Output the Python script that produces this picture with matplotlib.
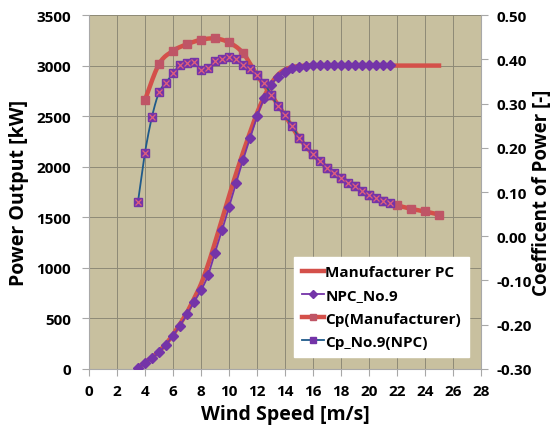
import numpy as np
import matplotlib
matplotlib.use("Agg")
import matplotlib.pyplot as plt
from matplotlib.lines import Line2D
from matplotlib.ticker import FormatStrFormatter

plt.rcParams['font.family'] = ['Open Sans', 'DejaVu Sans']
plt.rcParams['font.weight'] = 'bold'

# wind speed bins [m/s]
ws_pc = np.arange(3.5, 25.01, 0.5)
ws_npc = np.arange(3.5, 21.51, 0.5)
ws_cp_man = np.arange(4, 25.01, 1.0)

# power curves [kW]
pc_manufacturer = [15, 65, 115, 175, 250, 340, 445, 560, 695, 840, 1030, 1250,
                   1480, 1710, 1930, 2140, 2340, 2530, 2690, 2820, 2910, 2960,
                   2985, 2995] + [3000] * 20
pc_npc9 = [10, 60, 106, 165, 241, 330, 430, 539, 661, 777, 926, 1151, 1370,
           1604, 1840, 2066, 2282, 2497, 2675, 2805, 2890, 2940, 2973, 2988,
           2998, 3003] + [3005] * 11

# power coefficients [-]
cp_manufacturer = [0.308, 0.389, 0.419, 0.434, 0.444, 0.447, 0.438, 0.414,
                   0.364, 0.320, 0.273, 0.223, 0.185, 0.155, 0.132, 0.113,
                   0.094, 0.079, 0.070, 0.062, 0.056, 0.049]
cp_npc9 = [0.078, 0.189, 0.270, 0.325, 0.347, 0.368, 0.387, 0.391, 0.393,
           0.376, 0.380, 0.395, 0.401, 0.404, 0.400, 0.386, 0.379, 0.364,
           0.347, 0.320, 0.294, 0.273, 0.250, 0.223, 0.204, 0.185, 0.170,
           0.155, 0.143, 0.132, 0.121, 0.113, 0.102, 0.094, 0.087, 0.079,
           0.075]

RED = '#D4504A'
RED_MK = '#BF5566'
PURPLE = '#7434A8'
BLUE = '#1F5A8A'
BG = '#C8C09F'
GREY = '#A8A8A8'


def smooth(x, y, n=12):
    # excel-style smoothed line through the points (catmull-rom)
    x = np.asarray(x, float)
    y = np.asarray(y, float)
    px = np.concatenate([[x[0]], x, [x[-1]]])
    py = np.concatenate([[y[0]], y, [y[-1]]])
    t = np.linspace(0, 1, n, endpoint=False)[:, None]
    out_x, out_y = [], []
    for p, arr in ((px, out_x), (py, out_y)):
        p0, p1, p2, p3 = p[:-3], p[1:-2], p[2:-1], p[3:]
        seg = 0.5 * (2 * p1 + (-p0 + p2) * t + (2 * p0 - 5 * p1 + 4 * p2 - p3) * t ** 2
                     + (-p0 + 3 * p1 - 3 * p2 + p3) * t ** 3)
        arr.append(np.concatenate([seg.T.ravel(), [p[-2]]]))
    return out_x[0], out_y[0]


fig = plt.figure(figsize=(5.51, 4.27), dpi=100)
ax = fig.add_axes([0.1615, 0.1335, 0.7115, 0.829])
ax.set_facecolor(BG)

ax.plot(*smooth(ws_pc, pc_manufacturer), color=RED, lw=3.2, zorder=3)
ax.plot(*smooth(ws_npc, pc_npc9), color=PURPLE, lw=1.3, zorder=4)
ax.plot(ws_npc, pc_npc9, ls='none', marker='D', ms=5, mfc=PURPLE, mec=PURPLE, zorder=4)

ax.set_xlim(0, 28)
ax.set_ylim(0, 3500)
ax.set_xticks(np.arange(0, 29, 2))
ax.set_yticks(np.arange(0, 3501, 500))
ax.grid(True, color='#8E8A76', lw=0.7)
ax.set_axisbelow(True)
for s in ['top', 'right']:
    ax.spines[s].set_visible(False)
for s in ['left', 'bottom']:
    ax.spines[s].set_color(GREY)
    ax.spines[s].set_linewidth(0.8)
ax.tick_params(labelsize=11, colors=GREY, labelcolor='black', length=5, width=0.8)
ax.tick_params(axis='x', pad=6)
ax.tick_params(axis='y', pad=8)
ax.set_xlabel('Wind Speed [m/s]', fontsize=14, fontweight='bold', labelpad=4)
ax.set_ylabel('Power Output [kW]', fontsize=14, fontweight='bold', labelpad=5)

ax2 = ax.twinx()
ax2.plot(*smooth(ws_cp_man, cp_manufacturer), color=RED, lw=3.2, zorder=3)
ax2.plot(ws_cp_man, cp_manufacturer, ls='none', marker='s', ms=6,
         mfc=RED_MK, mec=RED_MK, zorder=3)
ax2.plot(*smooth(ws_npc, cp_npc9), color=BLUE, lw=1.3, zorder=4)
ax2.plot(ws_npc, cp_npc9, ls='none', marker='s', ms=6,
         mfc=PURPLE, mec=PURPLE, zorder=4)
ax2.plot(ws_npc, cp_npc9, ls='none', marker='x', ms=4.5, mew=0.9,
         color='#E0607A', zorder=5)
ax2.set_ylim(-0.3, 0.5)
ax2.set_yticks(np.arange(-0.3, 0.51, 0.1))
ax2.yaxis.set_major_formatter(FormatStrFormatter('%.2f'))
for s in ['top', 'left', 'bottom']:
    ax2.spines[s].set_visible(False)
ax2.spines['right'].set_color(GREY)
ax2.spines['right'].set_linewidth(0.8)
ax2.tick_params(labelsize=11, colors=GREY, labelcolor='black', length=5, width=0.8, pad=6)
ax2.set_ylabel('Coefficent of Power [-]', fontsize=13.5, fontweight='bold', labelpad=0)

handles = [
    Line2D([], [], color=RED, lw=3.2),
    Line2D([], [], color=PURPLE, lw=1.3, marker='D', ms=4, mfc=PURPLE, mec=PURPLE),
    Line2D([], [], color=RED, lw=3.2, marker='s', ms=5, mfc=RED_MK, mec=RED_MK),
    Line2D([], [], color=BLUE, lw=1.3, marker='s', ms=5, mfc=PURPLE, mec=PURPLE),
]
labels = ['Manufacturer PC', 'NPC_No.9', 'Cp(Manufacturer)', 'Cp_No.9(NPC)']
leg = ax2.legend(handles, labels, loc='lower right', bbox_to_anchor=(0.99, 0.012),
                 fontsize=11, frameon=True, fancybox=False, framealpha=1,
                 edgecolor='white', handlelength=1.4, handletextpad=0.1,
                 labelspacing=0.6, borderpad=0.55)
for t in leg.get_texts():
    t.set_fontweight('bold')

fig.savefig('out.png', dpi=100)
